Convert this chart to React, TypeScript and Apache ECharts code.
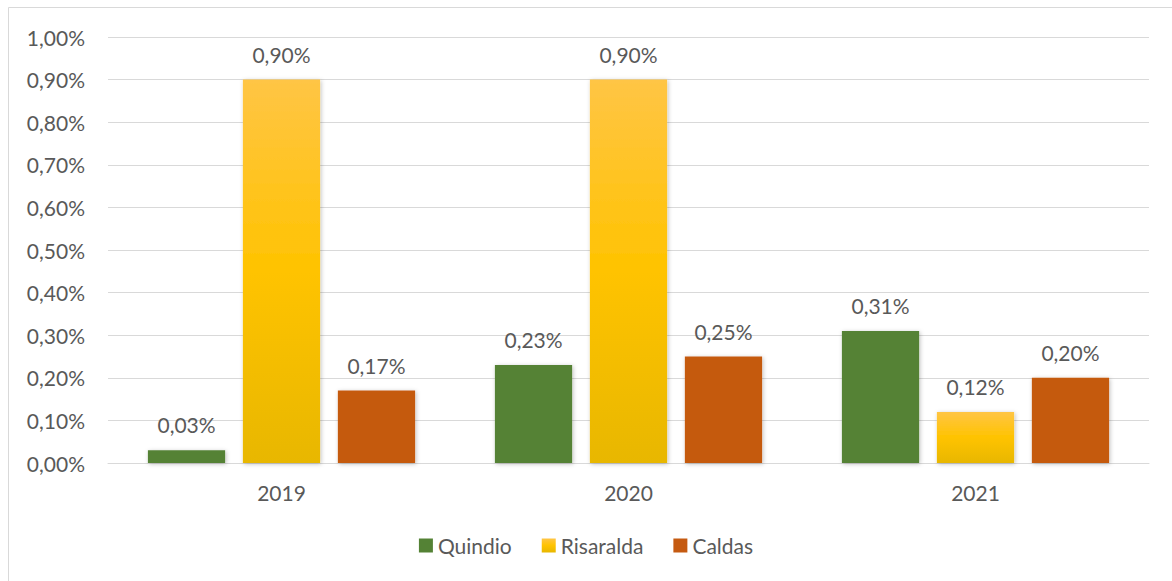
import React, { useEffect, useRef } from "react";
import * as echarts from "echarts";

const categories = ["2019", "2020", "2021"];
const seriesNames = ["Quindio", "Risaralda", "Caldas"];
const quindio = [0.03, 0.23, 0.31];
const risaralda = [0.9, 0.9, 0.12];
const caldas = [0.17, 0.25, 0.2];

const fmt = (v: number) => v.toFixed(2).replace(".", ",") + "%";
const FONT = "Lato";
const TEXT = "#595959";
const FS = 21;

export default function App() {
  const ref = useRef<HTMLDivElement>(null);
  useEffect(() => {
    if (!ref.current) return;
    const chart = echarts.init(ref.current, null, { renderer: "svg" });
    const shadow = {
      shadowBlur: 4,
      shadowColor: "rgba(0,0,0,0.25)",
      shadowOffsetX: 1,
      shadowOffsetY: 1,
    };
    const label = {
      show: true,
      position: "top",
      distance: 15,
      formatter: (p: any) => fmt(p.value),
      color: TEXT,
      fontFamily: FONT,
      fontSize: FS,
    };
    const yellow = new echarts.graphic.LinearGradient(0, 0, 0, 1, [
      { offset: 0, color: "#FFC545" },
      { offset: 0.5, color: "#FFC300" },
      { offset: 1, color: "#E8B700" },
    ]);
    chart.setOption({
      animation: false,
      backgroundColor: "#ffffff",
      graphic: [
        {
          type: "rect",
          shape: { x: 8.5, y: 7.5, width: 1200, height: 620 },
          style: { fill: "none", stroke: "#D9D9D9", lineWidth: 1 },
          silent: true,
        },
      ],
      grid: { left: 108, right: 23, top: 37, bottom: 118, containLabel: false },
      legend: {
        data: seriesNames,
        bottom: 20,
        left: "center",
        icon: "rect",
        itemWidth: 14,
        itemHeight: 14,
        itemGap: 30,
        textStyle: { color: TEXT, fontFamily: FONT, fontSize: FS },
      },
      xAxis: {
        type: "category",
        data: categories,
        axisLine: { lineStyle: { color: "#D9D9D9", width: 1 } },
        axisTick: { show: false },
        axisLabel: { color: TEXT, fontFamily: FONT, fontSize: FS, margin: 19 },
      },
      yAxis: {
        type: "value",
        min: 0,
        max: 1,
        interval: 0.1,
        axisLine: { show: false },
        axisTick: { show: false },
        splitLine: { lineStyle: { color: "#D9D9D9", width: 1 } },
        axisLabel: {
          color: TEXT,
          fontFamily: FONT,
          fontSize: FS,
          margin: 23,
          formatter: (v: number) => fmt(v),
        },
      },
      series: [
        {
          name: seriesNames[0],
          type: "bar",
          data: quindio,
          barGap: "23%",
          barCategoryGap: "23%",
          itemStyle: { color: "#548235", ...shadow },
          label,
        },
        {
          name: seriesNames[1],
          type: "bar",
          data: risaralda,
          barGap: "23%",
          barCategoryGap: "23%",
          itemStyle: { color: yellow, ...shadow },
          label,
        },
        {
          name: seriesNames[2],
          type: "bar",
          data: caldas,
          barGap: "23%",
          barCategoryGap: "23%",
          itemStyle: { color: "#C55A11", ...shadow },
          label,
        },
      ],
    });
    return () => chart.dispose();
  }, []);
  return (
    <div
      ref={ref}
      style={{ position: "fixed", left: 0, top: 0, width: 1172, height: 581 }}
    />
  );
}
